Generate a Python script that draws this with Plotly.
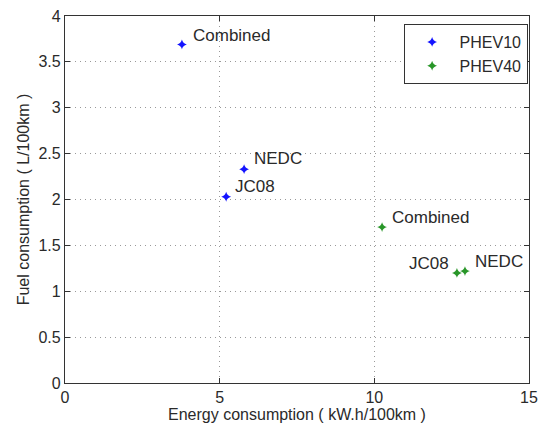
import plotly.graph_objects as go

series_names = ["PHEV10", "PHEV40"]
labels10 = ["Combined", "NEDC", "JC08"]
x10 = [3.78, 5.79, 5.21]
y10 = [3.69, 2.33, 2.03]
labels40 = ["Combined", "JC08", "NEDC"]
x40 = [10.25, 12.67, 12.93]
y40 = [1.70, 1.20, 1.22]

x_ticks = [0, 5, 10, 15]
y_ticks = [0, 0.5, 1, 1.5, 2, 2.5, 3, 3.5, 4]
y_ticklabels = ["0", "0.5", "1", "1.5", "2", "2.5", "3", "3.5", "4"]

colors = ["rgb(20,20,255)", "rgb(40,150,40)"]
font = "Liberation Sans, Arial, sans-serif"
txtc = "#2a2a2a"

fig = go.Figure()
fig.add_trace(go.Scatter(x=x10, y=y10, mode="markers", name=series_names[0],
                         marker=dict(symbol="star-diamond", size=7, color=colors[0], line=dict(width=0))))
fig.add_trace(go.Scatter(x=x40, y=y40, mode="markers", name=series_names[1],
                         marker=dict(symbol="star-diamond", size=7, color=colors[1], line=dict(width=0))))

# label offsets (styling): (xanchor, xshift, yshift)
offs10 = [("left", 9, 9), ("left", 8, 11), ("left", 7, 10)]
offs40 = [("left", 8, 10), ("right", -6, 9), ("left", 8, 10)]
for xs, ys, labs, offs in [(x10, y10, labels10, offs10), (x40, y40, labels40, offs40)]:
    for xv, yv, lab, (anc, dx, dy) in zip(xs, ys, labs, offs):
        fig.add_annotation(x=xv, y=yv, text=lab, showarrow=False, xanchor=anc, yanchor="middle",
                           xshift=dx, yshift=dy, font=dict(family=font, size=17, color=txtc))

axis_common = dict(showline=True, linecolor="#333", linewidth=1.3, mirror="ticks",
                   ticks="inside", ticklen=5, tickcolor="#333",
                   showgrid=True, gridcolor="#999", griddash="1px,4px", gridwidth=1,
                   zeroline=False, automargin=False,
                   tickfont=dict(family=font, size=16, color=txtc))

fig.update_xaxes(range=[0, 15], tickvals=x_ticks, ticktext=[str(t) for t in x_ticks],
                 title=dict(text="Energy consumption ( kW.h/100km )", font=dict(family=font, size=16, color=txtc), standoff=2),
                 **axis_common)
fig.update_yaxes(range=[0, 4], tickvals=y_ticks, ticktext=y_ticklabels,
                 title=dict(text="Fuel consumption ( L/100km )", font=dict(family=font, size=16, color=txtc), standoff=4),
                 **axis_common)

fig.update_layout(
    width=542, height=428, autosize=False,
    margin=dict(l=65, r=13, t=16, b=45, autoexpand=False),
    plot_bgcolor="white", paper_bgcolor="white",
    legend=dict(x=0.997, y=0.978, xanchor="right", yanchor="top",
                bordercolor="#333", borderwidth=1, bgcolor="white",
                font=dict(family=font, size=16, color=txtc),
                itemwidth=45, tracegroupgap=0),
    showlegend=True,
)

fig.write_html("out.html")
